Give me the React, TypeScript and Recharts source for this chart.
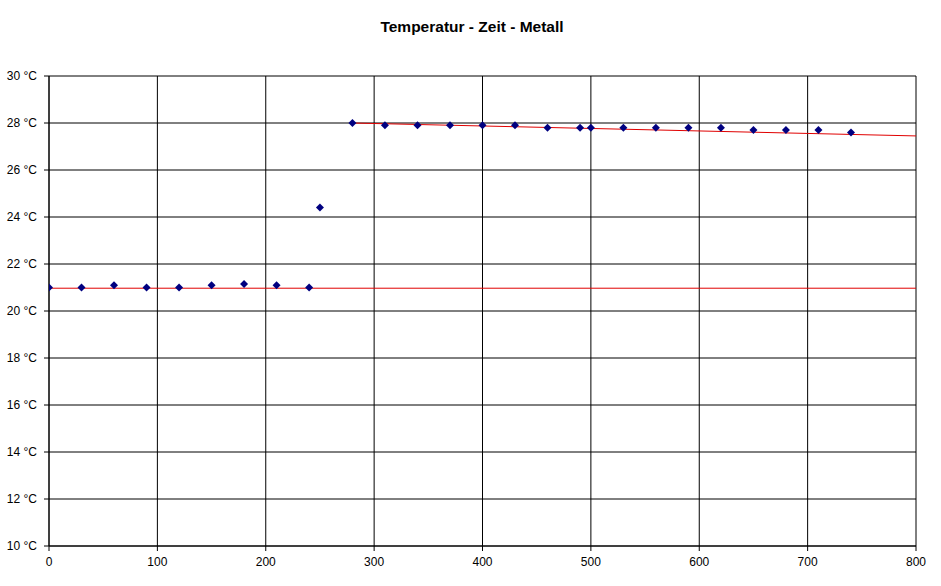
import React from 'react';
import { ComposedChart, Scatter, XAxis, YAxis, CartesianGrid } from 'recharts';

const times = [0, 30, 60, 90, 120, 150, 180, 210, 240, 250, 280, 310, 340, 370, 400, 430, 460, 490, 500, 530, 560, 590, 620, 650, 680, 710, 740];
const temps = [21.0, 21.0, 21.1, 21.0, 21.0, 21.1, 21.15, 21.1, 21.0, 24.4, 28.0, 27.9, 27.9, 27.9, 27.9, 27.9, 27.8, 27.8, 27.8, 27.8, 27.8, 27.8, 27.8, 27.7, 27.7, 27.7, 27.6];

const trend1Times = [0, 800];
const trend1Temps = [20.97, 20.97];
const trend2Times = [280, 800];
const trend2Temps = [28.0, 27.45];

const xTicks = [0, 100, 200, 300, 400, 500, 600, 700, 800];
const yTicks = [10, 12, 14, 16, 18, 20, 22, 24, 26, 28, 30];

const points = times.map((t, i) => ({ t, v: temps[i] }));
const trend1 = trend1Times.map((t, i) => ({ t, v: trend1Temps[i] }));
const trend2 = trend2Times.map((t, i) => ({ t, v: trend2Temps[i] }));

const FONT = '"Liberation Sans", Arial, sans-serif';

const Diamond = (props: any) => {
  const { cx, cy } = props;
  if (cx == null || cy == null) return null;
  const r = 4;
  return (
    <polygon
      points={`${cx},${cy - r} ${cx + r},${cy} ${cx},${cy + r} ${cx - r},${cy}`}
      fill="#000080"
      stroke="none"
    />
  );
};

const NoShape = () => null;

export default function App() {
  return (
    <div style={{ position: 'absolute', left: 0, top: 0, width: 941, height: 586, background: '#fff' }}>
      <div
        style={{
          position: 'absolute',
          left: 0,
          top: 18,
          width: 944,
          textAlign: 'center',
          fontFamily: FONT,
          fontWeight: 'bold',
          fontSize: 15.5,
          color: '#000',
        }}
      >
        Temperatur - Zeit - Metall
      </div>
      <ComposedChart
        width={941}
        height={586}
        margin={{ top: 76, right: 25, bottom: 10, left: 0 }}
        style={{ fontFamily: FONT }}
      >
        <CartesianGrid stroke="#000" strokeWidth={1} />
        <XAxis
          type="number"
          dataKey="t"
          domain={[0, 800]}
          ticks={xTicks}
          height={30}
          tickSize={5}
          tickMargin={6}
          stroke="#000"
          tick={{ fill: '#000', fontSize: 12 }}
          allowDataOverflow
        />
        <YAxis
          type="number"
          dataKey="v"
          domain={[10, 30]}
          ticks={yTicks}
          width={49}
          tickSize={5}
          tickMargin={7}
          stroke="#000"
          tickFormatter={(v: number) => `${v} °C`}
          tick={{ fill: '#000', fontSize: 12 }}
          allowDataOverflow
        />
        <Scatter data={trend1} line={{ stroke: '#e00000', strokeWidth: 1 }} shape={NoShape} isAnimationActive={false} />
        <Scatter data={trend2} line={{ stroke: '#e00000', strokeWidth: 1 }} shape={NoShape} isAnimationActive={false} />
        <Scatter data={points} shape={Diamond} isAnimationActive={false} />
      </ComposedChart>
    </div>
  );
}
